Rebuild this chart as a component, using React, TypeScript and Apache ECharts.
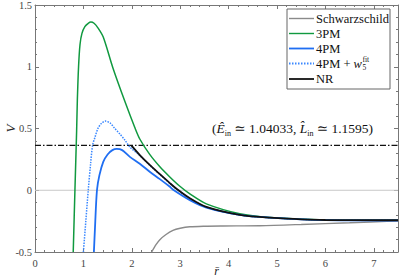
import React, { useEffect, useRef } from "react";
import * as echarts from "echarts";

// ---- data ----
const schwR = [2.41, 2.5, 2.58, 2.7, 2.85, 3.0, 3.2, 3.5, 3.88, 4.64, 5.5, 6.5, 7.5];
const schwV = [-0.5, -0.44, -0.4, -0.36, -0.325, -0.308, -0.296, -0.291, -0.289, -0.287, -0.277, -0.263, -0.248];

const pm3R = [0.79, 0.825, 0.86, 0.875, 0.9, 0.93, 0.97, 1.03, 1.1, 1.155, 1.22, 1.3, 1.41, 1.61, 1.856, 2.06, 2.165, 2.37, 2.58, 2.78, 3.0, 3.2, 3.54, 4.23, 4.85, 6.0, 7.5];
const pm3V = [-0.5, 0.0, 0.48, 0.73, 1.0, 1.18, 1.27, 1.325, 1.352, 1.362, 1.352, 1.315, 1.24, 0.99, 0.72, 0.51, 0.415, 0.29, 0.19, 0.11, 0.03, -0.03, -0.11, -0.19, -0.22, -0.24, -0.243];

const pm4R = [1.217, 1.24, 1.28, 1.33, 1.41, 1.5, 1.6, 1.69, 1.8, 1.96, 2.165, 2.37, 2.58, 2.78, 2.87, 3.2, 3.54, 4.23, 4.85, 6.0, 7.5];
const pm4V = [-0.5, -0.3, 0.0, 0.12, 0.23, 0.29, 0.325, 0.335, 0.325, 0.27, 0.215, 0.15, 0.09, 0.03, 0.0, -0.08, -0.14, -0.2, -0.222, -0.242, -0.245];

const pm4wR = [1.0, 1.05, 1.1, 1.15, 1.19, 1.24, 1.3, 1.37, 1.45, 1.55, 1.65, 1.75, 1.85, 1.96, 2.165, 2.37, 2.58, 2.78, 2.93, 3.2, 3.54, 4.23, 4.85, 6.0, 7.5];
const pm4wV = [-0.5, -0.25, 0.0, 0.22, 0.363, 0.43, 0.5, 0.54, 0.56, 0.545, 0.5, 0.457, 0.41, 0.35, 0.282, 0.203, 0.128, 0.058, 0.008, -0.067, -0.137, -0.2, -0.222, -0.241, -0.243];

const nrR = [1.99, 2.165, 2.37, 2.58, 2.78, 2.93, 3.2, 3.54, 4.23, 4.85, 6.0, 7.5];
const nrV = [0.363, 0.285, 0.205, 0.13, 0.06, 0.01, -0.065, -0.135, -0.2, -0.222, -0.241, -0.243];

const energyLevel = 0.363;
const xTicks = [0, 1, 2, 3, 4, 5, 6, 7];
const yTicks = [-0.5, 0, 0.5, 1, 1.5];
const seriesNames = ["Schwarzschild", "3PM", "4PM", "4PM + w5fit", "NR"];
const seriesColors = ["#8a8a8a", "#10993f", "#1f6ef2", "#3b88ff", "#111111"];

const zip = (a: number[], b: number[]) => a.map((v, i) => [v, b[i]]);

const SERIF = "'Liberation Serif', 'DejaVu Serif', 'Times New Roman', serif";

function measure(text: string, size: number, italic = false) {
  const c = document.createElement("canvas").getContext("2d");
  if (!c) return text.length * size * 0.5;
  c.font = `${italic ? "italic " : ""}${size}px ${SERIF}`;
  return c.measureText(text).width;
}

export default function App() {
  const ref = useRef<HTMLDivElement>(null);
  useEffect(() => {
    if (!ref.current) return;
    const chart = echarts.init(ref.current, undefined, { renderer: "svg" });
    const axisCommon = {
      type: "value" as const,
      axisLine: { show: true, onZero: false, lineStyle: { color: "#777", width: 1 } },
      axisTick: { show: true, inside: true, length: 4, lineStyle: { color: "#777" } },
      minorTick: { show: true, splitNumber: 5, length: 2, lineStyle: { color: "#777" } },
      splitLine: { show: false },
    };
    const labelFmt = (v: number) => {
      const ok = (xTicks as number[]).includes(v) || (yTicks as number[]).includes(v);
      return ok ? String(v) : "";
    };
    const legendTop = 10;
    const legendLeft = 287;
    const rowY = [18.5, 33.5, 48.5, 63.5, 79];
    const LS = 12.5;
    const txt = (x: number, y: number, text: string, size: number, italic = false) => ({
      type: "text",
      x,
      y,
      style: {
        text,
        fontFamily: SERIF,
        fontSize: size,
        fontStyle: italic ? "italic" : "normal",
        fill: "#111",
        verticalAlign: "middle",
      },
      z: 101,
    });
    const legendGraphics: any[] = [
      {
        type: "rect",
        shape: { x: legendLeft, y: legendTop - 1, width: 103, height: 80 },
        style: { fill: "#fff", stroke: "#666", lineWidth: 1 },
        z: 100,
      },
    ];
    seriesNames.forEach((n, i) => {
      legendGraphics.push({
        type: "line",
        shape: { x1: legendLeft + 2, y1: rowY[i], x2: legendLeft + 27, y2: rowY[i] },
        style: {
          stroke: seriesColors[i],
          lineWidth: i === 0 || i === 1 ? 1.4 : 1.8,
          lineDash: i === 3 ? [1.5, 1.5] : null,
        },
        z: 101,
      });
      if (i !== 3) legendGraphics.push(txt(legendLeft + 29, rowY[i], n, LS));
    });
    const x0 = legendLeft + 29;
    const wPlus = measure("4PM + ", LS);
    const wW = measure("w", LS, true);
    legendGraphics.push(
      txt(x0, rowY[3], "4PM + ", LS),
      txt(x0 + wPlus, rowY[3], "w", LS, true),
      txt(x0 + wPlus + wW + 0.5, rowY[3] - 4.5, "fit", 7.5),
      txt(x0 + wPlus + wW + 0.5, rowY[3] + 4, "5", 7.5)
    );

    const option: any = {
      animation: false,
      backgroundColor: "#fff",
      textStyle: { fontFamily: SERIF },
      grid: { left: 35, right: 1, top: 5, bottom: 27, containLabel: false, outerBoundsMode: "none" },
      xAxis: [
        {
          ...axisCommon,
          min: 0,
          max: 7.5,
          interval: 1,
          position: "bottom",
          name: "r\u0304",
          nameLocation: "middle",
          nameGap: 13,
          nameMoveOverlap: false,
          nameTextStyle: { fontFamily: SERIF, fontStyle: "italic", fontSize: 12, color: "#222" },
          axisLabel: { formatter: labelFmt, fontFamily: SERIF, fontSize: 10.5, color: "#444", margin: 6 },
        },
        {
          ...axisCommon,
          min: 0,
          max: 7.5,
          interval: 1,
          position: "top",
          axisLabel: { show: false },
        },
      ],
      yAxis: [
        {
          ...axisCommon,
          min: -0.5,
          max: 1.5,
          interval: 0.5,
          position: "left",
          name: "V",
          nameLocation: "middle",
          nameGap: 18,
          nameRotate: 90,
          nameMoveOverlap: false,
          nameTextStyle: { fontFamily: SERIF, fontStyle: "italic", fontSize: 13, color: "#222" },
          axisLabel: { formatter: labelFmt, fontFamily: SERIF, fontSize: 10.5, color: "#444", margin: 3 },
        },
        {
          ...axisCommon,
          min: -0.5,
          max: 1.5,
          interval: 0.5,
          position: "right",
          axisLabel: { show: false },
        },
      ],
      series: [
        {
          type: "line",
          data: [[0, 0], [7.5, 0]],
          symbol: "none",
          lineStyle: { color: "#c8c8c8", width: 1 },
          silent: true,
        },
        {
          type: "line",
          data: [[0, energyLevel], [7.5, energyLevel]],
          symbol: "none",
          lineStyle: { color: "#111", width: 1.3, type: [6, 2, 1.5, 2] },
          silent: true,
        },
        {
          name: seriesNames[0],
          type: "line",
          data: zip(schwR, schwV),
          symbol: "none",
          smooth: 0.3,
          lineStyle: { color: seriesColors[0], width: 1.4 },
        },
        {
          name: seriesNames[1],
          type: "line",
          data: zip(pm3R, pm3V),
          symbol: "none",
          smooth: 0.3,
          lineStyle: { color: seriesColors[1], width: 1.5 },
        },
        {
          name: seriesNames[3],
          type: "line",
          data: zip(pm4wR, pm4wV),
          symbol: "none",
          smooth: 0.3,
          lineStyle: { color: seriesColors[3], width: 1.5, type: [1.5, 1.2] },
        },
        {
          name: seriesNames[2],
          type: "line",
          data: zip(pm4R, pm4V),
          symbol: "none",
          smooth: 0.3,
          lineStyle: { color: seriesColors[2], width: 1.8 },
        },
        {
          name: seriesNames[4],
          type: "line",
          data: zip(nrR, nrV),
          symbol: "none",
          smooth: 0.3,
          lineStyle: { color: seriesColors[4], width: 1.8 },
        },
      ],
      graphic: [
        {
          type: "text",
          x: 212,
          y: 128,
          style: {
            text: "({e|\u00CA}{s|in} \u2243 1.04033, {e|L\u0302}{s|in} \u2243 1.1595)",
            fontFamily: SERIF,
            fontSize: 13.5,
            fill: "#111",
            verticalAlign: "middle",
            rich: {
              e: { fontStyle: "italic", fontFamily: SERIF, fontSize: 13.5, lineHeight: 18, verticalAlign: "middle" },
              s: { fontFamily: SERIF, fontSize: 8, lineHeight: 8, verticalAlign: "bottom" },
            },
          },
          z: 100,
        },
        ...legendGraphics,
      ],
    };
    chart.setOption(option);
    return () => chart.dispose();
  }, []);
  return <div ref={ref} style={{ width: 399, height: 279, position: "absolute", left: 0, top: 0 }} />;
}
